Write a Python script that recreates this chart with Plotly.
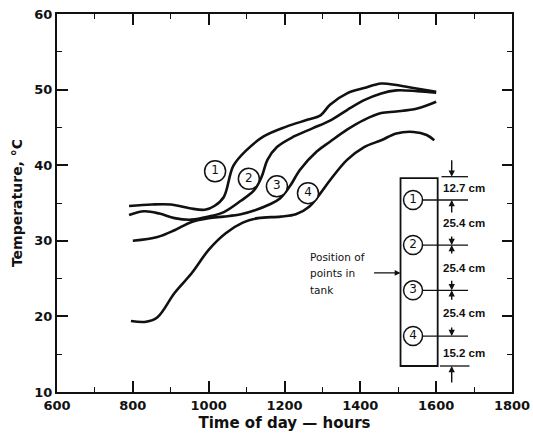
import plotly.graph_objects as go

# Temperatura en el tanque, cuatro puntos de medida
hours_1 = [790, 850, 900, 950, 990, 1015, 1040, 1065, 1100, 1145, 1205, 1260, 1295, 1320,
           1365, 1410, 1455, 1495, 1540, 1600]
temp_1 = [34.6, 34.8, 34.8, 34.3, 34.1, 34.6, 35.8, 39.9, 42.0, 43.8, 45.1, 46.0, 46.6, 48.0,
          49.5, 50.2, 50.8, 50.6, 50.2, 49.7]

hours_2 = [790, 830, 870, 910, 955, 1000, 1040, 1085, 1120, 1140, 1155, 1180, 1225, 1275,
           1320, 1365, 1410, 1455, 1495, 1550, 1600]
temp_2 = [33.4, 33.9, 33.6, 33.0, 32.8, 33.2, 33.8, 35.3, 36.7, 38.5, 40.7, 42.4, 43.8, 44.9,
          45.9, 47.3, 48.6, 49.5, 49.9, 49.8, 49.6]

hours_3 = [800, 865, 910, 955, 1000, 1040, 1085, 1120, 1160, 1188, 1214, 1241, 1285, 1320,
           1365, 1410, 1455, 1495, 1550, 1600]
temp_3 = [30.0, 30.5, 31.4, 32.5, 33.0, 33.2, 33.5, 34.0, 34.8, 35.6, 37.2, 39.4, 41.8, 43.1,
          44.7, 46.0, 46.9, 47.1, 47.5, 48.4]

hours_4 = [795, 835, 865, 910, 955, 1000, 1045, 1090, 1130, 1190, 1230, 1265, 1295, 1320,
           1365, 1410, 1455, 1495, 1540, 1575, 1595]
temp_4 = [19.4, 19.3, 19.9, 23.1, 25.7, 28.8, 31.0, 32.4, 33.0, 33.2, 33.5, 34.5, 36.3, 38.0,
          40.7, 42.4, 43.3, 44.2, 44.4, 44.0, 43.3]

curve_labels = ["1", "2", "3", "4"]
label_hours = [1017, 1106, 1180, 1262]
label_temps = [39.2, 38.2, 37.2, 36.3]

# Esquema del tanque
tank_hours = 1539
tank_point_temps = [35.4, 29.44, 23.45, 17.4]
gap_labels = ["12.7 cm", "25.4 cm", "25.4 cm", "25.4 cm", "15.2 cm"]
gap_label_temps = [36.94, 32.3, 26.36, 20.41, 15.12]

FONT = "DejaVu Sans"
INK = "#111111"

fig = go.Figure()

for hx, ty in [(hours_1, temp_1), (hours_2, temp_2), (hours_3, temp_3), (hours_4, temp_4)]:
    fig.add_trace(go.Scatter(
        x=hx, y=ty, mode="lines",
        line=dict(color=INK, width=2.6, shape="spline", smoothing=1.0),
        hoverinfo="skip", showlegend=False,
    ))

# ─── etiquetas circulares de las curvas
fig.add_trace(go.Scatter(
    x=label_hours, y=label_temps, mode="markers+text",
    text=curve_labels, textposition="middle center",
    textfont=dict(family=FONT, size=12, color=INK),
    marker=dict(symbol="circle", size=21, color="white", line=dict(color=INK, width=1.5)),
    hoverinfo="skip", showlegend=False,
))

# ─── caja del tanque
fig.add_shape(type="rect", x0=1506, x1=1604, y0=13.44, y1=38.3,
              line=dict(color=INK, width=1.8), fillcolor="rgba(0,0,0,0)")

# líneas de cota
for ty in tank_point_temps:
    fig.add_shape(type="line", x0=1565, x1=1684, y0=ty, y1=ty, line=dict(color=INK, width=1.3))
fig.add_shape(type="line", x0=1614, x1=1684, y0=38.48, y1=38.48, line=dict(color=INK, width=1.3))
fig.add_shape(type="line", x0=1610, x1=1688, y0=13.44, y1=13.44, line=dict(color=INK, width=1.3))

fig.add_trace(go.Scatter(
    x=[tank_hours] * 4, y=tank_point_temps, mode="markers+text",
    text=curve_labels, textposition="middle center",
    textfont=dict(family=FONT, size=12, color=INK),
    marker=dict(symbol="circle", size=19, color="white", line=dict(color=INK, width=1.5)),
    hoverinfo="skip", showlegend=False,
))

# flechas de cota
arrow_specs = [
    (38.48, -18),
    (35.4, 14),
    (29.44, -10),
    (29.44, 10),
    (23.45, -11),
    (23.45, 11),
    (17.4, -10),
    (13.44, 18),
]
for ty, off in arrow_specs:
    fig.add_annotation(x=1641, y=ty, ax=0, ay=off, text="", showarrow=True,
                       arrowhead=2, arrowsize=0.9, arrowwidth=1.4, arrowcolor=INK)

for txt, ty in zip(gap_labels, gap_label_temps):
    fig.add_annotation(x=1612, y=ty, text=txt, showarrow=False, xanchor="left",
                       yanchor="middle",
                       font=dict(family="Liberation Sans", size=11.5, color=INK, weight="bold"))

# texto "Position of points in tank"
for txt, ty in zip(["Position of", "points in", "tank"], [27.9, 25.7, 23.5]):
    fig.add_annotation(x=1262, y=ty, text=txt, showarrow=False, xanchor="left",
                       yanchor="middle", font=dict(family=FONT, size=10.5, color=INK))
fig.add_annotation(x=1506, y=25.75, ax=-28, ay=0, text="", showarrow=True,
                   arrowhead=2, arrowsize=0.9, arrowwidth=1.3, arrowcolor=INK)

# trazas vacías para los ejes espejo (marcas arriba y a la derecha)
fig.add_trace(go.Scatter(x=[None], y=[None], xaxis="x2", yaxis="y2",
                         hoverinfo="skip", showlegend=False))

tick_font = dict(family=FONT, size=13, color=INK, weight="bold")
axis_common = dict(
    showline=True, linecolor=INK, linewidth=2, mirror=True,
    ticks="inside", tickcolor=INK, tickwidth=1.6, ticklen=11,
    showgrid=False, zeroline=False, automargin=False,
)
x_range = [600, 1800]
y_range = [10, 60]
x_minor = dict(dtick=100, ticks="inside", ticklen=5, tickcolor=INK, tickwidth=1.4)
y_minor = dict(dtick=5, ticks="inside", ticklen=5, tickcolor=INK, tickwidth=1.4)

fig.update_layout(
    width=533, height=437,
    margin=dict(l=57, r=21, t=14, b=45),
    paper_bgcolor="white", plot_bgcolor="white",
    xaxis=dict(
        range=x_range, dtick=200, tick0=600, minor=x_minor, tickfont=tick_font,
        title=dict(text="Time of day \u2014 hours",
                   font=dict(family=FONT, size=15, color=INK, weight="bold"), standoff=6),
        **axis_common,
    ),
    yaxis=dict(
        range=y_range, dtick=10, tick0=10, minor=y_minor, tickfont=tick_font,
        title=dict(text="Temperature, \u00b0C",
                   font=dict(family=FONT, size=14, color=INK, weight="bold"), standoff=8),
        **axis_common,
    ),
    xaxis2=dict(
        range=x_range, dtick=200, tick0=600, minor=x_minor, overlaying="x", side="top",
        anchor="y", showticklabels=False, showline=False, ticks="inside", tickcolor=INK,
        tickwidth=1.6, ticklen=11, showgrid=False, zeroline=False, automargin=False,
    ),
    yaxis2=dict(
        range=y_range, dtick=10, tick0=10, minor=y_minor, overlaying="y", side="right",
        anchor="x", showticklabels=False, showline=False, ticks="inside", tickcolor=INK,
        tickwidth=1.6, ticklen=10, showgrid=False, zeroline=False, automargin=False,
    ),
)

fig.write_html("out.html", config={"displayModeBar": False},
               post_script="document.body.style.margin='0';")
